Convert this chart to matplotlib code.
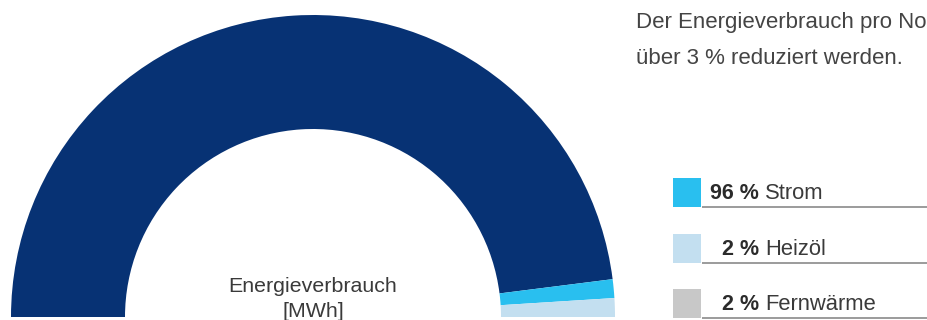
import numpy as np
import matplotlib.pyplot as plt
from matplotlib.patches import Rectangle

plt.rcParams['font.family'] = ['Liberation Sans', 'DejaVu Sans']

# Daten
anteile = [96, 2, 2]
labels = ['Strom', 'Heizöl', 'Fernwärme']
prozent = ['96 %', '2 %', '2 %']
ring_farben = ['#073274', '#29bfef', '#c3dff0']
legende_farben = ['#29bfef', '#c3dff0', '#c8c8c8']

fig = plt.figure(figsize=(9.28, 3.2), dpi=100)
ax = fig.add_axes([0, 0, 1, 1])

# halber Ring: unsichtbare untere Haelfte mit gleicher Summe
werte = anteile + [sum(anteile)]
farben = ring_farben + ['none']
ax.pie(werte, colors=farben, startangle=180, counterclock=False,
       radius=302, center=(313, 3), frame=True,
       wedgeprops=dict(width=114, linewidth=0))

ax.text(313, 320 - 292, 'Energieverbrauch', ha='center', va='baseline',
        fontsize=15.4, color='#3a3a3a')
ax.text(313, 320 - 317, '[MWh]', ha='center', va='baseline',
        fontsize=15.4, color='#3a3a3a')

# Text oben rechts
ax.text(636, 320 - 28, 'Der Energieverbrauch pro No', ha='left', va='baseline',
        fontsize=16, color='#444444')
ax.text(636, 320 - 64, 'über 3 % reduziert werden.', ha='left', va='baseline',
        fontsize=16, color='#444444')

# Legende
zeilen_unten = [207, 263, 318]
for i in range(len(labels)):
    yb = 320 - zeilen_unten[i]
    ax.add_patch(Rectangle((673, yb), 28, 29, facecolor=legende_farben[i], edgecolor='none'))
    ax.plot([702, 928], [yb, yb], color='#8a8a8a', lw=1.2, solid_capstyle='butt')
    ax.text(759, yb + 8, prozent[i], ha='right', va='baseline', fontsize=15.5,
            fontweight='bold', color='#2b2b2b')
    ax.text(765, yb + 8, labels[i], ha='left', va='baseline', fontsize=15.8,
            color='#3a3a3a')

ax.set_xlim(0, 928)
ax.set_ylim(0, 320)
ax.set_aspect('equal')
ax.axis('off')

fig.savefig('out.png', dpi=100)
